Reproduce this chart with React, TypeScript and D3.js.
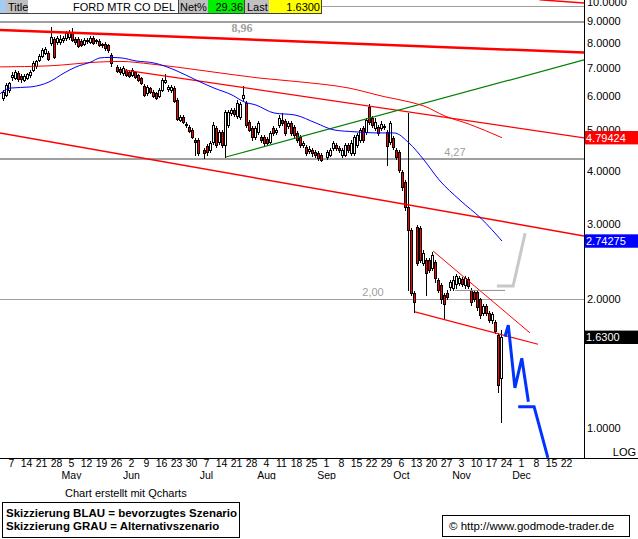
import React from "react";
import * as d3 from "d3";

const FONT = "'Liberation Sans', Arial, Helvetica, sans-serif";

// weekday slot index: 0 = Mon 7 Apr 2008; holidays have no candle
const firstSlot = -2;
const holidaySlots = [35, 64, 105];

const opens = [
  5.94, 6.04, 6.21, 6.66, 6.62, 6.80, 6.69, 6.55, 6.62, 6.73,
  6.91, 7.07, 7.30, 7.46, 7.58, 7.58, 8.00, 8.17, 8.04, 8.04,
  8.13, 8.22, 8.26, 8.44, 8.17, 8.17, 8.09, 7.96, 8.09, 8.04,
  8.22, 8.09, 8.09, 7.91, 7.96, 7.91, 7.50,
  7.03, 6.95, 6.80, 6.91, 6.84, 6.73, 6.84, 6.73, 6.62, 6.34,
  6.11, 6.27, 6.14, 6.11, 6.01, 6.21, 6.48, 6.24, 6.21, 6.27,
  5.88, 5.28, 5.36, 5.16, 5.08, 5.00, 4.74, 4.74, 4.49, 4.58,
  4.49, 4.68, 5.05, 4.68, 4.95, 4.61, 5.14, 5.48, 5.57, 5.39,
  5.36, 5.94, 5.79, 5.22, 5.05,
  4.81, 4.95, 4.81, 4.81, 4.76, 4.68, 5.05, 4.95, 5.14, 5.28,
  5.25, 5.11, 5.19, 5.08, 4.92, 4.81, 4.61, 4.56, 4.46, 4.49,
  4.44, 4.41, 4.37, 4.32, 4.37, 4.53, 4.61, 4.53, 4.37, 4.37,
  4.61, 4.41, 4.41, 4.61, 4.74, 5.05, 4.95, 5.66,
  5.33, 5.05, 5.08, 5.05, 5.08, 4.95, 4.68, 4.79, 4.49, 4.44,
  3.98, 3.78, 3.29, 2.91, 2.07, 2.96, 2.94, 2.43, 2.47, 2.47,
  2.37, 2.45, 2.22, 2.16, 2.05, 2.07, 2.14, 2.13, 2.17, 2.19,
  2.23, 2.16, 2.23, 2.10, 2.08, 2.08, 2.00, 1.86, 1.93, 1.86,
  1.79, 1.77, 1.65, 1.31,
];
const highs = [
  6.21, 6.44, 6.48, 6.84, 6.91, 6.88, 6.77, 6.77, 6.80, 6.91,
  7.26, 7.30, 7.54, 7.79, 7.83, 7.66, 8.73, 8.26, 8.31, 8.35,
  8.31, 8.54, 8.58, 8.68, 8.26, 8.26, 8.17, 8.22, 8.22, 8.31,
  8.31, 8.17, 8.17, 8.00, 8.04, 7.96, 7.58,
  7.10, 7.03, 7.07, 6.95, 6.91, 6.99, 6.88, 6.77, 6.66, 6.41,
  6.37, 6.31, 6.21, 6.14, 6.27, 6.62, 6.77, 6.37, 6.37, 6.34,
  5.94, 5.42, 5.42, 5.22, 5.14, 5.05, 4.79, 4.79, 4.53, 4.63,
  4.71, 5.22, 5.11, 5.00, 5.00, 5.57, 5.57, 5.63, 5.63, 5.88,
  5.82, 6.34, 5.85, 5.28, 5.11,
  5.11, 5.25, 4.87, 4.87, 4.81, 4.97, 5.11, 5.05, 5.42, 5.48,
  5.31, 5.25, 5.25, 5.14, 4.97, 4.87, 4.71, 4.61, 4.58, 4.53,
  4.49, 4.46, 4.41, 4.49, 4.53, 4.71, 4.66, 4.58, 4.53, 4.66,
  4.66, 4.74, 4.87, 4.92, 5.05, 5.11, 5.33, 5.76,
  5.39, 5.33, 5.14, 5.25, 5.16, 5.00, 5.25, 4.84, 4.53, 4.49,
  4.03, 3.82, 5.48, 2.94, 2.09, 2.99, 2.97, 2.61, 2.50, 2.50,
  2.58, 2.47, 2.25, 2.19, 2.07, 2.10, 2.22, 2.27, 2.30, 2.27,
  2.26, 2.27, 2.26, 2.13, 2.10, 2.10, 2.02, 1.95, 1.95, 1.88,
  1.87, 1.79, 1.67, 1.70,
];
const lows = [
  5.88, 6.01, 6.14, 6.55, 6.58, 6.51, 6.48, 6.51, 6.58, 6.66,
  6.88, 6.99, 7.26, 7.42, 7.54, 7.30, 7.91, 7.38, 7.96, 7.96,
  8.04, 8.13, 8.17, 8.09, 7.96, 7.83, 7.87, 7.91, 8.00, 8.00,
  7.96, 8.00, 7.87, 7.83, 7.70, 7.62, 7.07,
  6.84, 6.77, 6.73, 6.69, 6.66, 6.69, 6.62, 6.51, 6.41, 6.01,
  6.04, 6.11, 5.98, 5.91, 5.98, 6.17, 6.44, 6.17, 6.14, 5.82,
  5.28, 5.25, 5.19, 5.08, 4.95, 4.79, 4.37, 4.37, 4.30, 4.37,
  4.44, 4.63, 4.56, 4.63, 4.56, 4.32, 5.08, 5.42, 5.39, 5.33,
  5.31, 5.88, 5.08, 4.97, 4.74,
  4.76, 4.89, 4.68, 4.61, 4.61, 4.66, 4.87, 4.89, 5.08, 5.14,
  4.87, 5.05, 4.87, 4.81, 4.68, 4.56, 4.56, 4.37, 4.41, 4.34,
  4.32, 4.25, 4.23, 4.27, 4.34, 4.49, 4.49, 4.44, 4.32, 4.34,
  4.44, 4.37, 4.37, 4.56, 4.68, 4.68, 4.89, 5.16,
  5.08, 5.00, 4.87, 5.00, 5.03, 4.14, 4.63, 4.51, 4.27, 3.98,
  3.62, 3.25, 2.10, 2.05, 1.87, 2.41, 2.45, 2.41, 2.05, 2.32,
  2.35, 2.20, 2.08, 1.96, 1.81, 2.00, 2.10, 2.10, 2.13, 2.16,
  2.15, 2.13, 2.13, 1.94, 1.98, 1.89, 1.81, 1.84, 1.84, 1.77,
  1.76, 1.67, 1.21, 1.03,
];
const closes = [
  6.14, 6.37, 6.44, 6.73, 6.84, 6.58, 6.58, 6.69, 6.77, 6.84,
  7.18, 7.26, 7.46, 7.70, 7.74, 7.34, 8.26, 7.42, 8.22, 8.17,
  8.22, 8.44, 8.49, 8.13, 8.04, 7.87, 7.91, 8.13, 8.13, 8.22,
  8.00, 8.13, 7.91, 7.96, 7.79, 7.70, 7.18,
  6.88, 6.84, 6.99, 6.73, 6.69, 6.91, 6.66, 6.55, 6.44, 6.04,
  6.31, 6.14, 6.01, 5.94, 6.21, 6.55, 6.55, 6.31, 6.31, 5.85,
  5.31, 5.36, 5.22, 5.14, 4.97, 4.81, 4.68, 4.41, 4.41, 4.44,
  4.66, 5.14, 4.61, 4.95, 4.61, 5.51, 5.51, 5.57, 5.45, 5.79,
  5.76, 6.04, 5.14, 5.00, 4.81,
  5.05, 5.19, 4.74, 4.66, 4.66, 4.92, 4.92, 5.00, 5.33, 5.19,
  4.92, 5.19, 4.92, 4.87, 4.74, 4.61, 4.66, 4.41, 4.51, 4.41,
  4.37, 4.30, 4.25, 4.44, 4.49, 4.66, 4.53, 4.49, 4.49, 4.61,
  4.49, 4.66, 4.81, 4.87, 5.00, 4.74, 5.28, 5.22,
  5.14, 5.22, 4.92, 5.16, 5.11, 4.58, 5.19, 4.56, 4.32, 4.03,
  3.67, 3.29, 2.91, 2.07, 1.97, 2.43, 2.47, 2.57, 2.31, 2.35,
  2.54, 2.25, 2.10, 2.00, 1.95, 2.03, 2.20, 2.22, 2.27, 2.25,
  2.17, 2.25, 2.15, 1.97, 2.01, 1.92, 1.84, 1.93, 1.86, 1.79,
  1.85, 1.69, 1.26, 1.63,
];

const dayLabels = [
  "7", "14", "21", "28", "5", "12", "19", "26", "2", "9", "16", "23", "30",
  "7", "14", "21", "28", "4", "11", "18", "25", "1", "8", "15", "22", "29",
  "6", "13", "20", "27", "3", "10", "17", "24", "1", "8", "15", "22",
];
const monthLabels = ["May", "Jun", "Jul", "Aug", "Sep", "Oct", "Nov", "Dec"];
const monthSlots = [20, 40, 65, 85, 105, 130, 150, 170];
const priceTicks = [10, 9, 8, 7, 6, 5, 4, 3, 2, 1];

// moving averages: [slot, price]
const blueMA: [number, number][] = [
  [-3.3, 6.08], [0, 6.27], [7, 6.31], [13, 6.48], [18, 6.8], [22, 7.03], [27, 7.22],
  [30, 7.38], [33, 7.4], [37, 7.38], [42, 7.26], [48, 7.18], [55, 6.91], [62, 6.55],
  [68, 6.27], [74, 6.04], [78, 5.82], [82, 5.72], [88, 5.48], [95, 5.42], [102, 5.19],
  [108, 5.0], [115, 4.95], [122, 4.92], [128, 4.92], [133, 4.66], [138, 4.25],
  [143, 3.82], [150, 3.42], [157, 3.1], [164, 2.74275],
];
const redMA: [number, number][] = [
  [-3.3, 7.03], [13, 7.07], [30, 7.22], [37, 7.24], [47, 7.14], [65, 6.88], [83, 6.62],
  [97, 6.48], [113, 6.27], [125, 5.98], [133, 5.82], [138, 5.69], [145, 5.39],
  [153, 5.16], [164, 4.79424],
];

// trend lines: [slot, price]
const thickRedLine: [number, number][] = [[-3.34, 8.58], [191.34, 7.6]];
const topRedLine: [number, number][] = [[176.5, 10.1], [191.34, 9.93]];
const redTrendLine: [number, number][] = [[38.3, 6.91], [191.34, 4.79]];
const greenLine: [number, number][] = [[72, 4.32], [191.34, 7.3]];
const lowerRedLine: [number, number][] = [[-3.34, 4.92], [191.34, 2.82]];
const channelUpper: [number, number][] = [[141, 2.6], [173.3, 1.67]];
const channelLower: [number, number][] = [[135, 1.87], [176, 1.57]];
const supportLine: [number, number][] = [[148.3, 2.1], [165, 2.1]];
const grayScenario: [number, number][] = [[162.3, 2.15], [167.7, 2.15], [171.7, 2.86]];
const blueScenarioA: [number, number][] = [[165, 1.635], [166.1, 1.74], [168.3, 1.24], [170.6, 1.455], [172.8, 1.15]];
const blueScenarioB: [number, number][] = [[169.4, 1.12], [174.7, 1.12], [179.3, 0.85]];

const levels = [8.96, 4.27, 2.0];
const levelLabels = ["8,96", "4,27", "2,00"];
const levelLabelSlots = [77.3, 148.3, 121];

const redMALast = 4.79424;
const blueMALast = 2.74275;
const lastPrice = 1.63;
const netPct = 29.36;
const title = "FORD MTR CO DEL";

export default function App() {
  const x = d3.scaleLinear().domain([0, 191]).range([10, 583]);
  const y = d3.scaleLog().domain([1, 10]).range([427.7, 1.7]);
  const line = d3.line<[number, number]>().x((d) => x(d[0])).y((d) => y(d[1]));
  const curve = d3
    .line<[number, number]>()
    .x((d) => x(d[0]))
    .y((d) => y(d[1]))
    .curve(d3.curveMonotoneX);

  const slots: number[] = [];
  let s = firstSlot;
  for (let k = 0; k < closes.length; k++) {
    while (holidaySlots.includes(s)) s++;
    slots.push(s);
    s++;
  }

  const candles = closes.map((c, k) => {
    const o = opens[k];
    const cx = Math.round(x(slots[k])) - 1;
    const top = Math.round(y(Math.max(o, c)));
    const bot = Math.round(y(Math.min(o, c)));
    const hy = Math.round(y(highs[k]));
    const ly = Math.round(y(lows[k]));
    const up = c >= o;
    return (
      <g key={k}>
        <line x1={cx + 0.5} x2={cx + 0.5} y1={hy} y2={ly + 1} stroke="#000" strokeWidth={1} />
        <rect
          x={cx - 0.5}
          y={top + 0.5}
          width={2}
          height={Math.max(bot - top, 1)}
          fill={up ? "#fff" : "#ff0000"}
          stroke="#000"
          strokeWidth={1}
        />
      </g>
    );
  });

  const txt = { fontFamily: FONT, fontSize: 11 } as const;
  const axisTxt = { fontFamily: FONT, fontSize: 10.5 } as const;

  return (
    <svg
      width={638}
      height={539}
      style={{ position: "absolute", left: 0, top: 0, display: "block", background: "#fff" }}
    >
      <defs>
        <clipPath id="plot">
          <rect x={0} y={0} width={584} height={458} />
        </clipPath>
        <clipPath id="months">
          <rect x={0} y={468} width={584} height={11.5} />
        </clipPath>
      </defs>
      <rect x={0} y={0} width={638} height={539} fill="#fff" />

      <g clipPath="url(#plot)">
        <line x1={0} x2={584} y1={6.5} y2={6.5} stroke="#a0a0a0" strokeWidth={1} />
        {levels.map((v, k) => (
          <line
            key={k}
            x1={0}
            x2={584}
            y1={Math.round(y(v)) + (k === 2 ? 0.5 : 0)}
            y2={Math.round(y(v)) + (k === 2 ? 0.5 : 0)}
            stroke="#a0a0a0"
            strokeWidth={k === 2 ? 1 : 2}
          />
        ))}
        {levelLabels.map((t, k) => (
          <text
            key={k}
            x={x(levelLabelSlots[k])}
            y={Math.round(y(levels[k])) - (k === 0 ? -10 : 3)}
            textAnchor="middle"
            fill="#a0a0a0"
            style={
              k === 0
                ? { fontFamily: "'Liberation Serif', 'DejaVu Serif', serif", fontSize: 12, fontWeight: "bold" }
                : { fontFamily: FONT, fontSize: 11 }
            }
          >
            {t}
          </text>
        ))}

        {candles}

        <path d={line(thickRedLine) || ""} stroke="#ff0000" strokeWidth={2.5} fill="none" />
        <path d={line(topRedLine) || ""} stroke="#ff0000" strokeWidth={1.5} fill="none" />
        <path d={line(redTrendLine) || ""} stroke="#ff0000" strokeWidth={1.2} fill="none" />
        <path d={line(lowerRedLine) || ""} stroke="#ff0000" strokeWidth={1.5} fill="none" />
        <path d={line(greenLine) || ""} stroke="#008000" strokeWidth={1.2} fill="none" />
        <path d={line(channelUpper) || ""} stroke="#ff0000" strokeWidth={1} fill="none" />
        <path d={line(channelLower) || ""} stroke="#ff0000" strokeWidth={1.2} fill="none" />
        <path d={line(supportLine) || ""} stroke="#909090" strokeWidth={1} fill="none" />
        <path d={curve(redMA) || ""} stroke="#ff0000" strokeWidth={1} fill="none" />
        <path d={curve(blueMA) || ""} stroke="#0000ff" strokeWidth={1} fill="none" />

        <path d={line(grayScenario) || ""} stroke="#c8c8c8" strokeWidth={3} fill="none" />
        <path d={line(blueScenarioA) || ""} stroke="#0033ff" strokeWidth={3} fill="none" />
        <path d={line(blueScenarioB) || ""} stroke="#0033ff" strokeWidth={3} fill="none" />
      </g>

      {/* header */}
      <g style={txt}>
        <rect x={0} y={0} width={6} height={13} fill="#a6caf0" />
        <rect x={6} y={0} width={22} height={13} fill="#c0c0c0" />
        <text x={8} y={11}>Title</text>
        <rect x={28} y={0} width={150} height={13} fill="#fff" />
        <text x={175} y={11} textAnchor="end">{title}</text>
        <rect x={179} y={0} width={29} height={13} fill="#c0c0c0" />
        <text x={180} y={11}>Net%</text>
        <rect x={208} y={0} width={36} height={13} fill="#00f000" />
        <text x={243} y={11} textAnchor="end">{netPct.toFixed(2)}</text>
        <rect x={245} y={0} width={24} height={13} fill="#c0c0c0" />
        <text x={247} y={11}>Last</text>
        <rect x={269} y={0} width={52} height={13} fill="#ffff00" />
        <text x={320} y={11} textAnchor="end">{lastPrice.toFixed(4)}</text>
        <line x1={178.5} x2={178.5} y1={0} y2={13} stroke="#404040" />
        <line x1={244.5} x2={244.5} y1={0} y2={13} stroke="#404040" />
        <line x1={321.5} x2={321.5} y1={0} y2={14} stroke="#404040" />
        <line x1={0} x2={322} y1={13.5} y2={13.5} stroke="#404040" />
      </g>

      {/* right axis */}
      <line x1={584.5} x2={584.5} y1={0} y2={458} stroke="#000" />
      <line x1={0} x2={638} y1={458.5} y2={458.5} stroke="#000" />
      {priceTicks.map((v) => (
        <text key={v} x={587} y={y(v) + 4} style={txt}>
          {v.toFixed(4)}
        </text>
      ))}
      {[
        { v: redMALast, bg: "#ff0000", t: redMALast.toFixed(5) },
        { v: blueMALast, bg: "#0000ff", t: blueMALast.toFixed(5) },
        { v: lastPrice, bg: "#000000", t: lastPrice.toFixed(4) },
      ].map((b, k) => (
        <g key={k}>
          <rect x={585} y={y(b.v) - 6.7} width={53} height={13.4} fill={b.bg} />
          <text x={586} y={y(b.v) + 4} fill="#fff" style={txt}>
            {b.t}
          </text>
        </g>
      ))}
      <text x={636} y={456} textAnchor="end" style={txt}>
        LOG
      </text>

      {/* x axis */}
      {dayLabels.map((t, k) => (
        <text key={k} x={x(k * 5) + 1.5} y={467} textAnchor="middle" style={axisTxt}>
          {t}
        </text>
      ))}
      <g clipPath="url(#months)">
        {monthLabels.map((t, k) => (
          <text key={k} x={x(monthSlots[k]) + 1.5} y={479} textAnchor="middle" style={axisTxt}>
            {t}
          </text>
        ))}
      </g>

      {/* footer */}
      <text x={65} y={497} style={txt}>
        Chart erstellt mit Qcharts
      </text>
      <rect x={2.5} y={502.5} width={237} height={35} fill="none" stroke="#000" strokeWidth={1} />
      <text x={6} y={517} style={{ fontFamily: FONT, fontSize: 11.5, fontWeight: "bold" }}>
        Skizzierung BLAU = bevorzugtes Szenario
      </text>
      <text x={6} y={530} style={{ fontFamily: FONT, fontSize: 11.5, fontWeight: "bold" }}>
        Skizzierung GRAU = Alternativszenario
      </text>
      <rect x={442.5} y={515.5} width={187} height={21} fill="none" stroke="#000" strokeWidth={1} />
      <text x={449} y={530} style={{ fontFamily: FONT, fontSize: 11.5 }}>
        © http://www.godmode-trader.de
      </text>
    </svg>
  );
}
